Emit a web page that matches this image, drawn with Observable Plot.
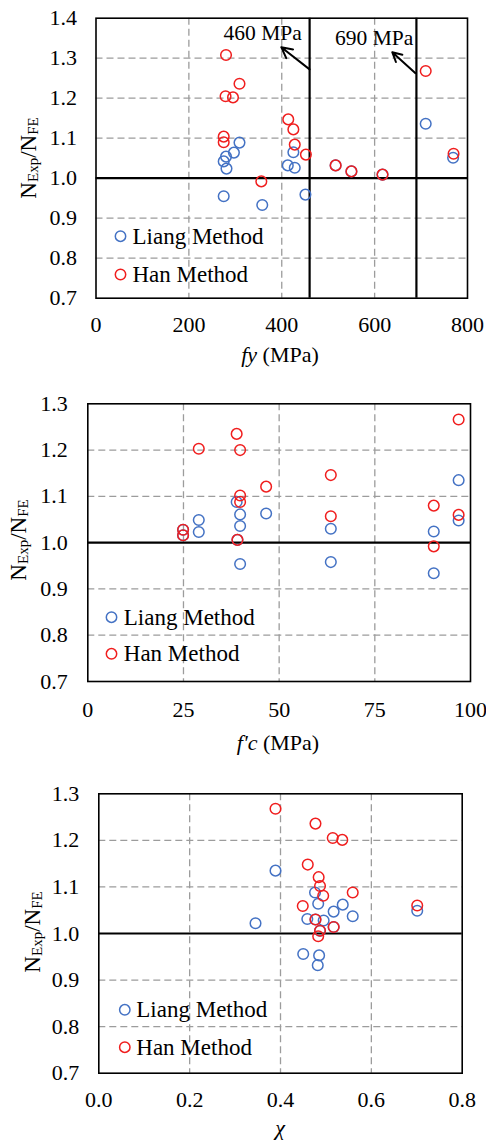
<!DOCTYPE html>
<html>
<head>
<meta charset="utf-8">
<script src="https://cdn.jsdelivr.net/npm/d3@7"></script>
<script src="https://cdn.jsdelivr.net/npm/@observablehq/plot@0.6"></script>
<style>
  html, body { margin: 0; padding: 0; background: #fff; }
  #chart svg { display: block; }
  #chart svg, #chart svg text { font-family: "Liberation Serif", "DejaVu Serif", "Times New Roman", serif !important; }
</style>
</head>
<body>
<div id="chart"></div>
<script>
// ---- Ratio N_Exp / N_FE against steel yield strength fy (MPa)
const fyLiang = [309, 297, 280, 275, 281, 275, 358, 425, 413, 428, 451, 710, 769, 516, 550, 617];
const ratioFyLiang = [1.089, 1.064, 1.054, 1.042, 1.024, 0.955, 0.933, 1.065, 1.032, 1.026, 0.959, 1.136, 1.051, 1.032, 1.017, 1.009];
const fyHan = [280, 309, 279, 295, 275, 275, 414, 425, 428, 452, 356, 516, 550, 617, 710, 770];
const ratioFyHan = [1.308, 1.236, 1.205, 1.202, 1.104, 1.090, 1.147, 1.122, 1.084, 1.059, 0.992, 1.032, 1.017, 1.009, 1.268, 1.061];

// ---- Ratio against concrete strength f'c (MPa)
const fcLiang = [96.9, 38.9, 39.8, 39.8, 46.6, 29.0, 29.0, 63.5, 90.4, 96.9, 39.8, 63.5, 90.4, 24.9, 24.9, 39.1];
const ratioFcLiang = [1.135, 1.088, 1.061, 1.036, 1.063, 1.049, 1.023, 1.030, 1.024, 1.048, 0.954, 0.958, 0.934, 1.028, 1.016, 1.006];
const fcHan = [96.9, 38.9, 39.8, 29.0, 46.6, 63.5, 39.8, 39.8, 63.5, 90.4, 96.9, 24.9, 24.9, 39.1, 90.4];
const ratioFcHan = [1.266, 1.235, 1.200, 1.203, 1.121, 1.146, 1.102, 1.088, 1.057, 1.080, 1.060, 1.028, 1.016, 1.006, 0.992];

// ---- Ratio against confinement factor chi
const chiLiang = [0.389, 0.345, 0.476, 0.483, 0.517, 0.537, 0.559, 0.459, 0.495, 0.450, 0.485, 0.482, 0.701, 0.477, 0.517, 0.487];
const ratioChiLiang = [1.135, 1.022, 1.088, 1.064, 1.047, 1.062, 1.037, 1.031, 1.028, 0.956, 0.953, 0.932, 1.049, 1.030, 1.014, 1.006];
const chiHan = [0.389, 0.477, 0.515, 0.536, 0.460, 0.484, 0.487, 0.494, 0.559, 0.449, 0.701, 0.477, 0.517, 0.487, 0.483];
const ratioChiHan = [1.268, 1.236, 1.205, 1.201, 1.148, 1.121, 1.102, 1.081, 1.088, 1.059, 1.060, 1.030, 1.014, 1.006, 0.994];

// ---- Axis ticks and labels
const fyTicks = [0, 200, 400, 600, 800];
const fcTicks = [0, 25, 50, 75, 100];
const chiTicks = [0, 0.2, 0.4, 0.6, 0.8];
const ratioTicksTop = [0.7, 0.8, 0.9, 1.0, 1.1, 1.2, 1.3, 1.4];
const ratioTicks = [0.7, 0.8, 0.9, 1.0, 1.1, 1.2, 1.3];
const seriesNames = ["Liang Method", "Han Method"];

// ---- Yield-strength limits marked on the fy panel
const limitFy = [460, 690];
const limitNotes = [
  {label: "460 MPa", tx: 359, ty: 1.362, x1: 460, y1: 1.272, x2: 399, y2: 1.3275},
  {label: "690 MPa", tx: 599, ty: 1.351, x1: 688, y1: 1.2625, x2: 638, y2: 1.315}
];

const BLUE = "#4472C4";
const RED = "#F01E1E";
const FONT = "'Liberation Serif', 'DejaVu Serif', 'Times New Roman', serif";
const zip = (xs, ys) => xs.map((x, i) => ({x, y: ys[i]}));

const gridStyle = {stroke: "#9c9c9c", strokeOpacity: 1, strokeWidth: 1.3, strokeDasharray: "7,4"};

function panel(cfg) {
  const legendMarks = seriesNames.flatMap((name, i) => [
    Plot.dot([name], {frameAnchor: "bottom-left", dx: cfg.legend.dx, dy: cfg.legend.dy[i],
      r: 5.2, stroke: i === 0 ? BLUE : RED, strokeWidth: 1.5, fill: "none"}),
    Plot.text([name], {frameAnchor: "bottom-left", dx: cfg.legend.tx, dy: cfg.legend.dy[i],
      text: d => d, textAnchor: "start", lineAnchor: "middle", fontSize: 23, fill: "#000"})
  ]);

  const svg = Plot.plot({
    width: 486,
    height: cfg.height,
    marginTop: cfg.m[0], marginRight: cfg.m[1], marginBottom: cfg.m[2], marginLeft: cfg.m[3],
    style: {fontFamily: FONT, fontSize: "22px", color: "#000", background: "#fff", overflow: "visible"},
    x: {domain: cfg.xDomain, label: null},
    y: {domain: cfg.yDomain, label: null},
    marks: [
      Plot.gridX(cfg.xTicks.slice(1, -1), gridStyle),
      Plot.gridY(cfg.yTicks.filter(v => v !== 1 && v !== cfg.yDomain[0] && v !== cfg.yDomain[1]), gridStyle),
      Plot.ruleY([1], {stroke: "#000", strokeWidth: 2.2}),
      ...(cfg.extra || []),
      Plot.dot(cfg.liang, {x: "x", y: "y", r: 5.3, stroke: BLUE, strokeWidth: 1.5, fill: "none"}),
      Plot.dot(cfg.han, {x: "x", y: "y", r: 5.3, stroke: RED, strokeWidth: 1.5, fill: "none"}),
      Plot.frame({stroke: "#000", strokeWidth: 1.6}),
      Plot.axisX(cfg.xTicks, {tickSize: 0, tickPadding: cfg.xPad, tickFormat: cfg.xFormat, fontSize: 22, fill: "#000"}),
      Plot.axisY(cfg.yTicks, {tickSize: 0, tickPadding: cfg.yPad, tickFormat: d3.format(".1f"), fontSize: 22, fill: "#000"}),
      ...legendMarks
    ]
  });

  const s = d3.select(svg);
  // y-axis title: N_Exp / N_FE
  const yt = s.append("text")
    .attr("transform", `translate(${cfg.yTitle[0]},${cfg.yTitle[1]}) rotate(-90)`)
    .attr("text-anchor", "middle")
    .attr("font-size", 23)
    .attr("fill", "#000");
  yt.append("tspan").text("N");
  yt.append("tspan").attr("font-size", 15).attr("dy", 2).text("Exp");
  yt.append("tspan").attr("dy", -2).text("/N");
  yt.append("tspan").attr("font-size", 15).attr("dy", 2).text("FE");

  // x-axis title
  const xt = s.append("text")
    .attr("x", cfg.xTitle[0]).attr("y", cfg.xTitle[1])
    .attr("text-anchor", "middle")
    .attr("font-size", 22)
    .attr("fill", "#000");
  cfg.xLabel.forEach(([str, italic]) => {
    const t = xt.append("tspan").text(str);
    if (italic) t.attr("font-style", "italic");
  });
  return svg;
}

const chart = document.getElementById("chart");

chart.appendChild(panel({
  height: 380, m: [17.7, 19, 82.3, 95.5],
  xDomain: [0, 800], yDomain: [0.7, 1.4],
  xTicks: fyTicks, yTicks: ratioTicksTop, xFormat: d3.format("d"),
  xPad: 18, yPad: 19,
  liang: zip(fyLiang, ratioFyLiang), han: zip(fyHan, ratioFyHan),
  legend: {dx: 24.5, tx: 36.5, dy: [-62, -23.7]},
  yTitle: [35.5, 158], xTitle: [280, 362],
  xLabel: [["fy", true], [" (MPa)", false]],
  extra: [
    Plot.ruleX(limitFy, {stroke: "#000", strokeWidth: 2.2}),
    Plot.arrow(limitNotes, {x1: "x1", y1: "y1", x2: "x2", y2: "y2", stroke: "#000",
      strokeWidth: 2, headLength: 9, headAngle: 55}),
    Plot.text(limitNotes, {x: "tx", y: "ty", text: "label", fontSize: 21.5, fill: "#000"})
  ]
}));

chart.appendChild(panel({
  height: 380, m: [23.3, 16, 79, 87.3],
  xDomain: [0, 100], yDomain: [0.7, 1.3],
  xTicks: fcTicks, yTicks: ratioTicks, xFormat: d3.format("d"),
  xPad: 20, yPad: 20,
  liang: zip(fcLiang, ratioFcLiang), han: zip(fcHan, ratioFcHan),
  legend: {dx: 23.7, tx: 36, dy: [-64.3, -27.7]},
  yTitle: [26, 160], xTitle: [278, 370],
  xLabel: [["f'c", true], [" (MPa)", false]]
}));

chart.appendChild(panel({
  height: 384, m: [33.3, 24.3, 71.3, 98.3],
  xDomain: [0, 0.8], yDomain: [0.7, 1.3],
  xTicks: chiTicks, yTicks: ratioTicks, xFormat: d3.format(".1f"),
  xPad: 18.5, yPad: 19.5,
  liang: zip(chiLiang, ratioChiLiang), han: zip(chiHan, ratioChiHan),
  legend: {dx: 26, tx: 37.5, dy: [-63.4, -26]},
  yTitle: [39.5, 172], xTitle: [280, 375],
  xLabel: [["χ", true]]
}));
</script>
</body>
</html>
